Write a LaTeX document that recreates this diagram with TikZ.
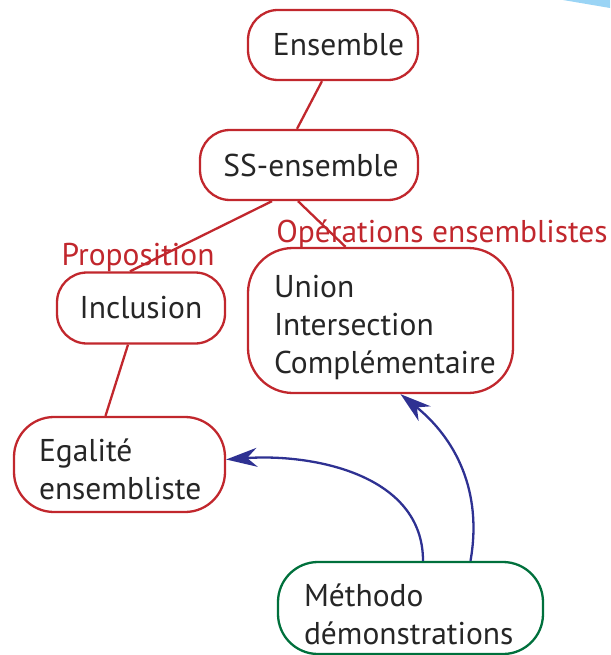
\documentclass[tikz,border=0pt]{standalone}
\usepackage{fontspec}
\setmainfont{PT Sans}
\usetikzlibrary{arrows.meta}
\definecolor{cred}{HTML}{C1272D}
\definecolor{cgreen}{HTML}{00703C}
\definecolor{cblue}{HTML}{2E3192}
\definecolor{cbluelight}{HTML}{9AD4F5}
\newcommand{\bigfs}{\fontsize{31.5}{38}\selectfont}
\newcommand{\lowertxt}[2]{\raisebox{-#1}[\height][\depth]{\begin{tabular}{@{}l@{}}#2\end{tabular}}}
\begin{document}
\begin{tikzpicture}[x=1pt,y=-1pt,
  box/.style={draw=cred, line width=2.3pt, rounded corners=30pt, inner sep=0pt, font=\bigfs, text=black!85},
  gbox/.style={box, draw=cgreen},
  lab/.style={font=\bigfs, text=cred, inner sep=0pt},
  link/.style={draw=cred, line width=2.3pt},
  arr/.style={draw=cblue, line width=2.3pt, -{Stealth[length=31pt,width=19pt,inset=10pt]}}]
\useasboundingbox (0,0) rectangle (610,655);
\fill[cbluelight] (563,0) -- (610,0) -- (610,8) -- cycle;
\node[box, minimum width=170, minimum height=70] (ens) at (333,45) {\hspace*{11pt}Ensemble};
\node[box, minimum width=218, minimum height=70] (ss) at (309,165) {\hspace*{4pt}SS-ensemble};
\node[box, minimum width=168, minimum height=71] (inc) at (141,308) {Inclusion};
\node[box, rounded corners=45pt, minimum height=145, text width=265, align=left, inner xsep=0pt] (op) at (380.5,320.5)
  {\hspace*{26pt}\lowertxt{7pt}{Union\\Intersection\\Complémentaire}};
\node[box, rounded corners=40pt, minimum height=95, text width=211, align=left] (eg) at (119.5,464.5)
  {\hspace*{25pt}\lowertxt{8pt}{Egalité\\ensembliste}};
\node[gbox, rounded corners=40pt, minimum height=92, text width=265, align=left] (meth) at (410.5,608)
  {\hspace*{26pt}\lowertxt{10pt}{Méthodo\\démonstrations}};
\node[lab] (prop) at (138,257) {Proposition};
\node[lab] (opl) at (442,234) {Opérations ensemblistes};
\draw[link] ([xshift=-11pt]ens.south) -- ([xshift=-12pt]ss.north);
\draw[link] ([xshift=-37pt]ss.south) -- ([xshift=-11pt]inc.north);
\draw[link] ([xshift=-11pt]ss.south) -- ([xshift=-35pt]op.north);
\draw[link] ([xshift=-13pt]inc.south) -- ([xshift=-14pt]eg.north);
\draw[arr] ([xshift=12.5pt]meth.north) to[out=90,in=4] ([yshift=5pt]eg.east);
\draw[arr] ([xshift=60pt]meth.north) to[out=80,in=-39] ([xshift=20pt]op.south);
\end{tikzpicture}
\end{document}
